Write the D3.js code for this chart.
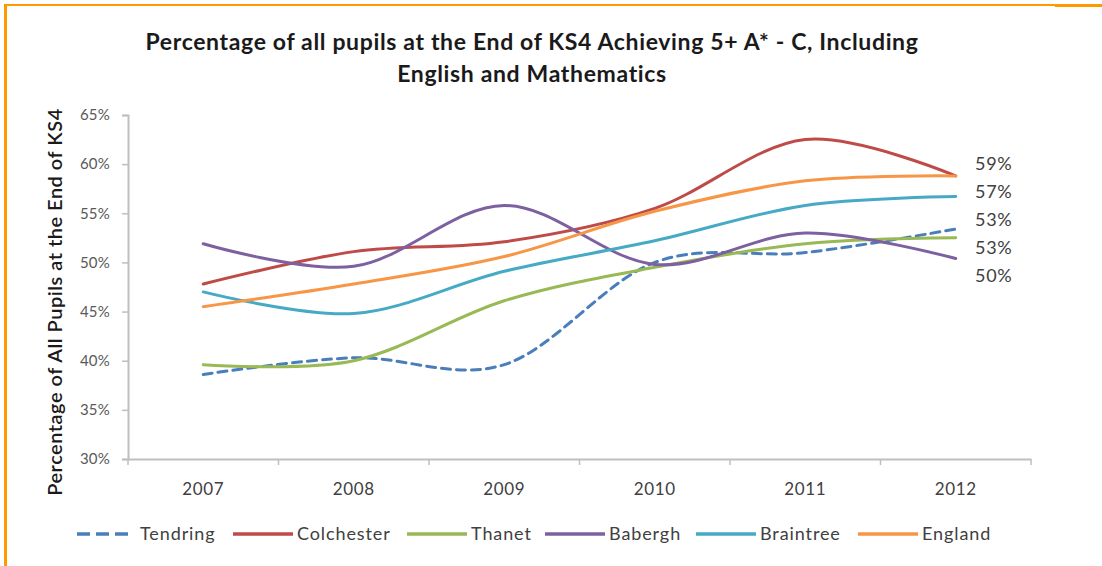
<!DOCTYPE html>
<html>
<head>
<meta charset="utf-8">
<script src="https://cdn.jsdelivr.net/npm/d3@7"></script>
<style>
  html, body { margin: 0; padding: 0; background: #fff; }
  svg { display: block; }
</style>
</head>
<body>
<svg id="chart" width="1102" height="566"></svg>
<script>
// Academic years on the category axis
const years = ["2007", "2008", "2009", "2010", "2011", "2012"];

// Percentage of pupils achieving 5+ A*-C incl. English and Maths
const tendring   = [38.6, 40.3, 39.6, 50.0, 51.0, 53.4];
const colchester = [47.8, 51.1, 52.1, 55.5, 62.5, 58.8];
const thanet     = [39.6, 40.0, 46.1, 49.5, 51.9, 52.5];
const babergh    = [51.9, 49.6, 55.8, 49.8, 53.0, 50.4];
const braintree  = [47.0, 44.8, 49.1, 52.2, 55.8, 56.7];
const england    = [45.5, 47.8, 50.6, 55.2, 58.3, 58.8];

const seriesNames = ["Tendring", "Colchester", "Thanet", "Babergh", "Braintree", "England"];
const seriesColors = ["#4a7ebb", "#be4b48", "#98b954", "#7d60a0", "#46aac5", "#f79646"];

// Right-hand value labels for 2012
const endLabels = ["59%", "57%", "53%", "53%", "50%"];

const yTicks = [30, 35, 40, 45, 50, 55, 60, 65];

const series = [
  { name: seriesNames[0], color: seriesColors[0], values: tendring, dashed: true },
  { name: seriesNames[1], color: seriesColors[1], values: colchester },
  { name: seriesNames[2], color: seriesColors[2], values: thanet },
  { name: seriesNames[3], color: seriesColors[3], values: babergh },
  { name: seriesNames[4], color: seriesColors[4], values: braintree },
  { name: seriesNames[5], color: seriesColors[5], values: england }
];

const svg = d3.select("#chart");
const font = "Lato, 'Open Sans', sans-serif";

// Outer frame: orange rule along top and left edges
svg.append("rect").attr("x", 4).attr("y", 4).attr("width", 1051).attr("height", 2).attr("fill", "#ff9900");
svg.append("rect").attr("x", 1055).attr("y", 4).attr("width", 47).attr("height", 3).attr("fill", "#ff9900");
svg.append("rect").attr("x", 4).attr("y", 4).attr("width", 3).attr("height", 562).attr("fill", "#ff9900");

const plot = { left: 128, right: 1031, top: 115, bottom: 459 };

const x = d3.scaleBand().domain(years).range([plot.left, plot.right]);
const y = d3.scaleLinear().domain([30, 65]).range([plot.bottom, plot.top]);

// Title
const title = svg.append("text")
  .attr("text-anchor", "middle")
  .attr("font-family", font)
  .attr("font-weight", "bold")
  .attr("font-size", 23)
  .attr("letter-spacing", 0.65)
  .attr("fill", "#1a1a1a");
title.append("tspan").attr("x", 532).attr("y", 50)
  .text("Percentage of all pupils at the End of KS4 Achieving 5+ A* - C, Including");
title.append("tspan").attr("x", 532).attr("y", 82)
  .text("English and Mathematics");

// Y axis
const yAxis = svg.append("g")
  .attr("transform", `translate(${plot.left},0)`)
  .call(d3.axisLeft(y).tickValues(yTicks).tickSize(6).tickPadding(12).tickFormat(d => d + "%"));
yAxis.select(".domain").attr("stroke", "#bfbfbf").attr("stroke-width", 2);
yAxis.selectAll(".tick line").attr("stroke", "#bfbfbf").attr("stroke-width", 1.5);
yAxis.selectAll(".tick text")
  .attr("font-family", font).attr("font-size", 15).attr("letter-spacing", 0.2).attr("fill", "#595959");

// X axis: ticks sit on category boundaries
const xAxis = svg.append("g")
  .attr("transform", `translate(0,${plot.bottom})`)
  .call(d3.axisBottom(x).tickSize(0).tickPadding(24));
xAxis.select(".domain").attr("stroke", "#bfbfbf").attr("stroke-width", 2);
xAxis.selectAll(".tick text")
  .attr("font-family", font).attr("font-size", 17).attr("letter-spacing", 0.6).attr("fill", "#404040");
const boundaries = years.map(d => x(d)).concat([x(years[years.length - 1]) + x.bandwidth()]);
xAxis.selectAll("line.boundary")
  .data(boundaries)
  .join("line")
  .attr("class", "boundary")
  .attr("x1", d => d).attr("x2", d => d)
  .attr("y1", 0).attr("y2", 6)
  .attr("stroke", "#bfbfbf").attr("stroke-width", 1.5);

// Y axis title
svg.append("text")
  .attr("transform", `translate(62,302) rotate(-90)`)
  .attr("text-anchor", "middle")
  .attr("font-family", font)
  .attr("font-weight", 600)
  .attr("font-size", 20)
  .attr("letter-spacing", 0.5)
  .attr("fill", "#1a1a1a")
  .text("Percentage of All Pupils at the End of KS4");

// Smoothed series lines
const line = d3.line()
  .x((d, i) => x(years[i]) + x.bandwidth() / 2)
  .y(d => y(d))
  .curve(d3.curveCardinal.tension(0));

svg.append("g").selectAll("path")
  .data(series)
  .join("path")
  .attr("d", d => line(d.values))
  .attr("fill", "none")
  .attr("stroke", d => d.color)
  .attr("stroke-width", 3)
  .attr("stroke-linecap", "round")
  .attr("stroke-dasharray", d => d.dashed ? "9,6" : null);

// End-of-series value labels, stacked down the right margin
const labelTop = y(d3.max(series, s => s.values[s.values.length - 1])) - 12;
svg.append("g").selectAll("text")
  .data(endLabels)
  .join("text")
  .attr("x", 975)
  .attr("y", (d, i) => labelTop + i * 28 + 6)
  .attr("font-family", font)
  .attr("font-size", 18)
  .attr("letter-spacing", 0.7)
  .attr("fill", "#404040")
  .text(d => d);

// Legend: each entry is a line swatch followed by its label
const legendLineX = [77, 233, 407, 545, 696, 858];
const legendLineW = [51, 60, 60, 60, 60, 60];
const legendTextX = [140, 297, 471, 609, 760, 922];
const legend = svg.append("g").selectAll("g")
  .data(series)
  .join("g")
  .attr("transform", "translate(0,534)");
legend.append("line")
  .attr("x1", (d, i) => legendLineX[i])
  .attr("x2", (d, i) => legendLineX[i] + legendLineW[i])
  .attr("y1", 0).attr("y2", 0)
  .attr("stroke", d => d.color)
  .attr("stroke-width", 3.5)
  .attr("stroke-dasharray", d => d.dashed ? "13,6" : null);
legend.append("text")
  .attr("x", (d, i) => legendTextX[i])
  .attr("y", 6)
  .attr("font-family", font)
  .attr("font-size", 18)
  .attr("letter-spacing", 0.9)
  .attr("fill", "#404040")
  .text(d => d.name);
</script>
</body>
</html>
